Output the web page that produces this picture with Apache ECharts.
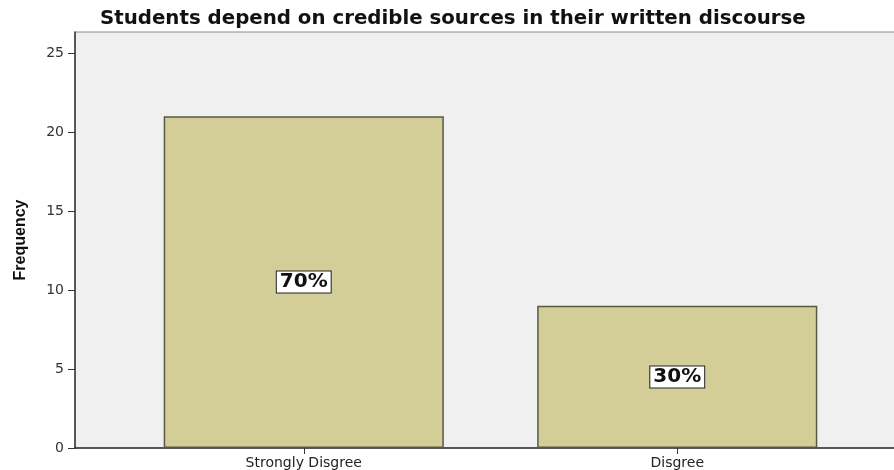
<!DOCTYPE html>
<html>
<head>
<meta charset="utf-8">
<script src="https://cdn.jsdelivr.net/npm/echarts@6/dist/echarts.min.js"></script>
<style>
  html, body { margin: 0; padding: 0; background: #ffffff; }
  #chart { width: 894px; height: 470px; }
</style>
</head>
<body>
<div id="chart"></div>
<script>
// Frequency of responses per category
const categories = ['Strongly Disgree', 'Disgree'];
const frequencies = [21, 9];
const yTicks = [0, 5, 10, 15, 20, 25];
const yMax = 26.33;

const total = frequencies.reduce((a, b) => a + b, 0);
const font = 'DejaVu Sans, Verdana, sans-serif';

const chart = echarts.init(document.getElementById('chart'), null, { renderer: 'canvas' });

chart.setOption({
  animation: false,
  backgroundColor: '#ffffff',
  title: {
    text: 'Students depend on credible sources in their written discourse',
    left: 95,
    top: 4,
    textStyle: { fontFamily: font, fontSize: 19.8, fontWeight: 'bold', color: '#111' }
  },
  grid: [
    // frame: background, y axis and baseline
    { left: 75, top: 32, width: 822, height: 416, show: true, outerBoundsMode: 'none',
      backgroundColor: '#f0f0f0', borderColor: '#8a8a8a', borderWidth: 1 },
    // bars
    { left: 117, top: 32, width: 747, height: 416, outerBoundsMode: 'none' }
  ],
  xAxis: [
    { gridIndex: 0, type: 'value', min: 0, max: 1,
      axisLine: { show: true, lineStyle: { color: '#333', width: 1.5 } },
      axisTick: { show: false }, axisLabel: { show: false }, splitLine: { show: false } },
    { gridIndex: 1, type: 'category', data: categories,
      axisLine: { show: false },
      axisTick: { show: true, alignWithLabel: true, length: 6, lineStyle: { color: '#333' } },
      axisLabel: { fontFamily: font, fontSize: 14, color: '#222', margin: 8 } }
  ],
  yAxis: [
    { gridIndex: 0, type: 'value', min: 0, max: yMax,
      name: 'Frequency', nameLocation: 'middle', nameRotate: 90, nameGap: 46,
      nameTextStyle: { fontFamily: 'Liberation Sans Narrow, Arial Narrow, Liberation Sans, sans-serif',
        fontSize: 16, fontWeight: 'bold', color: '#111' },
      axisLine: { show: true, lineStyle: { color: '#333', width: 1.5 } },
      axisTick: { show: true, length: 7, customValues: yTicks, lineStyle: { color: '#333' } },
      axisLabel: { customValues: yTicks, fontFamily: font, fontSize: 14, color: '#333', margin: 11 },
      splitLine: { show: false } },
    { gridIndex: 1, type: 'value', min: 0, max: yMax, show: false }
  ],
  series: [{
    type: 'bar',
    xAxisIndex: 1,
    yAxisIndex: 1,
    data: frequencies,
    barWidth: '75%',
    itemStyle: { color: '#d3ce98', borderColor: '#5a5744', borderWidth: 1.5 },
    label: {
      show: true,
      position: 'inside',
      formatter: p => Math.round(p.value / total * 100) + '%',
      fontFamily: font, fontSize: 20, fontWeight: 'bold', color: '#111',
      backgroundColor: '#ffffff', borderColor: '#222', borderWidth: 1,
      padding: [1, 3, 0, 3]
    }
  }]
});
</script>
</body>
</html>
